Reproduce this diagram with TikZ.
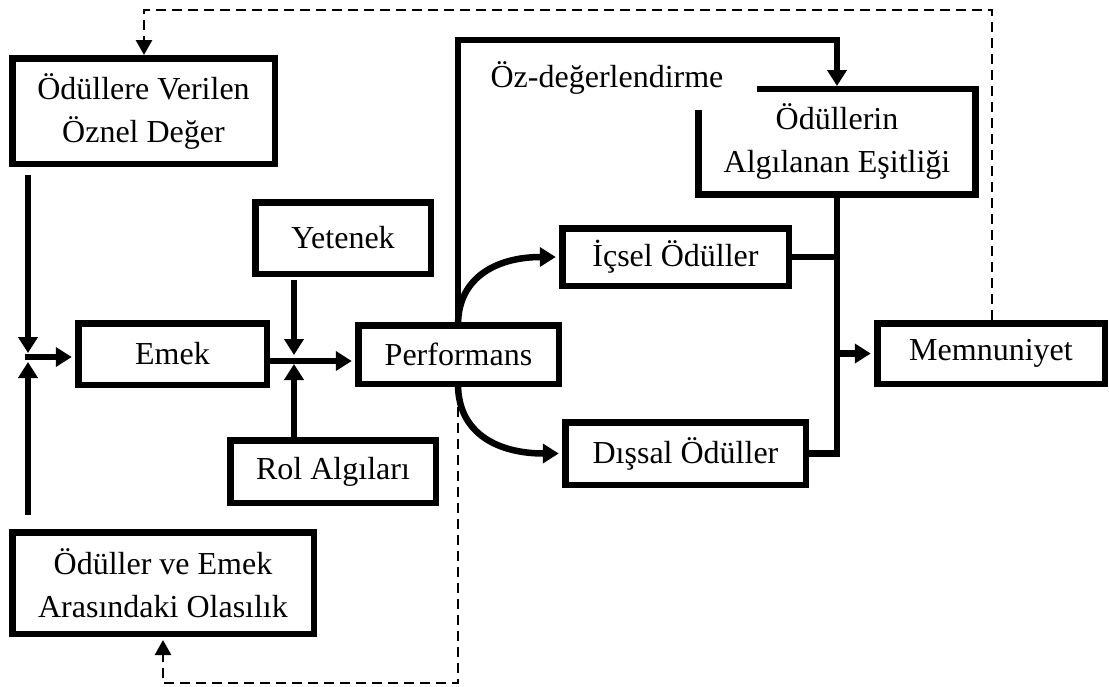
\documentclass[tikz,border=0pt]{standalone}
\usepackage{fontspec}
\setmainfont{Liberation Serif}
\usetikzlibrary{arrows.meta}
\begin{document}
\begin{tikzpicture}[x=1pt,y=-1pt,
  txt/.style={inner sep=0pt,align=center,font=\fontsize{32}{43}\selectfont},
  bx/.style={txt,draw,line width=6.5pt},
  conn/.style={line width=6.5pt,line join=miter},
  arr/.style={conn,-{Triangle[length=16pt,width=19pt]}},
  dsh/.style={line width=2.8pt,dash pattern=on 10pt off 6pt},
  darr/.style={dsh,-{Triangle[length=15pt,width=16pt]}}]
\useasboundingbox (0,0) rectangle (1109,686);

% boxes
\node[bx,minimum width=262.5pt,minimum height=105.5pt] (ovd) at (143.5,111) {Ödüllere Verilen\\Öznel Değer};
\node[bx,minimum width=188.5pt,minimum height=61.5pt] (emek) at (172.5,354) {Emek};
\node[bx,minimum width=175.5pt,minimum height=71.5pt] (yet) at (343,238) {Yetenek};
\node[bx,minimum width=205.5pt,minimum height=62.5pt] (rol) at (333,471.5) {Rol Algıları};
\node[bx,minimum width=200.5pt,minimum height=58.5pt] (perf) at (458.5,354.5) {Performans};
\node[bx,minimum width=226.5pt,minimum height=57.5pt] (icsel) at (675.5,257) {İçsel Ödüller};
\node[bx,minimum width=240.5pt,minimum height=62.5pt] (dissal) at (685.5,453.5) {Dışsal Ödüller};
\node[bx,minimum width=227.5pt,minimum height=60.5pt] (memn) at (991,353.5) {Memnuniyet};
\node[bx,minimum width=301.5pt,minimum height=101.5pt] (ove) at (163,583) {Ödüller ve Emek\\Arasındaki Olasılık};
\node[txt] (esit) at (837,141) {Ödüllerin\\Algılanan Eşitliği};
\node[txt,anchor=base] (oz) at (607,87) {Öz-değerlendirme};

% open box around esit
\draw[line width=6.5pt,line join=miter] (757,89) -- (975.5,89) -- (975.5,194.5) -- (698.5,194.5) -- (698.5,110);

% junction 1
\coordinate (t1) at (28,175);
\coordinate (j1t) at (28,353);
\coordinate (b1) at (28,515);
\coordinate (j1b) at (28,362);
\coordinate (j1) at (25,357);
\draw[arr] (t1) -- (j1t);
\draw[arr] (b1) -- (j1b);
\draw[arr] (j1) -- ([xshift=-3.25pt]emek.west|-j1);

% junction 2
\coordinate (j2) at (267,361);
\coordinate (t2) at (294,280);
\coordinate (j2t) at (294,355);
\coordinate (b2) at (294,440);
\coordinate (j2b) at (294,364);
\draw[arr] (j2) -- ([xshift=-3.25pt]perf.west|-j2);
\draw[arr] (t2) -- (j2t);
\draw[arr] (b2) -- (j2b);

% performance outputs
\coordinate (pt) at (458,325);
\coordinate (pb) at (458,384);
\draw[arr] (pt) .. controls (458,275) and (500,257) .. ([xshift=-3.25pt]icsel.west);
\draw[arr] (pb) .. controls (458,435) and (500,453.5) .. ([xshift=-3.25pt]dissal.west);
\draw[arr] (pt) -- (458,40) -- (837,40) -- (837,86);

% right bus
\coordinate (bus) at (837,353.5);
\draw[conn] (dissal.east) -- (837,453.5) -- (837,197);
\draw[conn] (icsel.east) -- (837,257);
\draw[arr] (bus) -- ([xshift=-3.25pt]memn.west);

% dashed feedbacks
\coordinate (m1) at (992,320);
\coordinate (d1) at (458,407);
\draw[darr] (m1) -- (992,10) -- (144,10) -- (144,55);
\draw[darr] (d1) -- (458,683) -- (163,683) -- (163,640);
\end{tikzpicture}
\end{document}
